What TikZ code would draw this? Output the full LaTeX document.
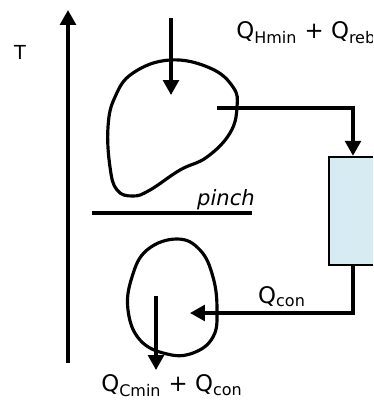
\documentclass[tikz,border=0pt]{standalone}
\usepackage{fontspec}
\setmainfont{DejaVu Sans}
\usetikzlibrary{arrows.meta}
\definecolor{boxblue}{RGB}{214,236,242}

\begin{document}
\begin{tikzpicture}[x=0.02cm,y=-0.02cm]
\tikzstyle{every node}=[inner sep=0pt,font=\fontsize{13}{15}\selectfont];
\tikzstyle{flow}=[line width=1.8pt,-{Triangle[width=9pt,length=8.5pt]}];
\useasboundingbox (0,0) rectangle (373,400);
\clip (0,0) rectangle (373,400);
% axis
\node (tlab) at (20,52) {\fontsize{11}{13}\selectfont T};
\coordinate (axlo) at (68,363);
\coordinate (axhi) at (68,10);
\draw[flow] (axlo) -- (axhi);
% hot blob
\draw[line width=1.8pt] plot[smooth cycle,tension=0.7] coordinates {(170,60) (210,68) (233,87) (237,107) (230,133)
  (207,157) (180,170) (150,190) (133,196) (117,190) (110,167) (108,127) (115,97) (133,73)};
\coordinate (hin) at (171,18);
\coordinate (hend) at (171,95);
\draw[flow] (hin) -- (hend);
\node[anchor=west] (qhot) at (236,33) {Q\textsubscript{Hmin} + Q\textsubscript{reb}};
% pinch
\coordinate (pl) at (92,213);
\coordinate (pr) at (252,213);
\draw[line width=1.8pt] (pl) -- (pr);
\node (pinch) at (226,200) {\fontsize{12}{14}\selectfont\itshape pinch};
% exchanger
\node[draw,line width=1.4pt,fill=boxblue,minimum width=0.96cm,minimum height=2.16cm] (hx) at (353,211) {};
\coordinate (hout) at (217,108);
\draw[flow] (hout) -| (hx.north);
\coordinate (cin) at (190,313);
\draw[flow] (hx.south) |- (cin);
\node (qcon) at (282,297) {Q\textsubscript{con}};
% cold blob
\draw[line width=1.8pt] plot[smooth cycle,tension=0.7] coordinates {(177,239) (200,250) (213,277) (217,310) (213,337)
  (193,353) (167,354) (140,340) (128,310) (132,277) (147,250)};
\coordinate (cfrom) at (156,296);
\coordinate (cout) at (156,370);
\draw[flow] (cfrom) -- (cout);
\node (qcold) at (172,386) {Q\textsubscript{Cmin} + Q\textsubscript{con}};
\end{tikzpicture}
\end{document}
